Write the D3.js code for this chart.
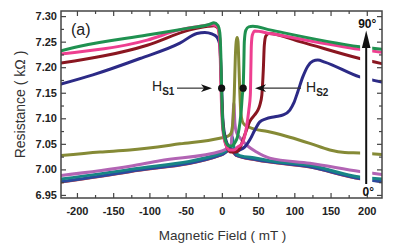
<!DOCTYPE html>
<html>
<head>
<meta charset="utf-8">
<script src="https://cdn.jsdelivr.net/npm/d3@7"></script>
<style>
  body { margin: 0; background: #fff; }
  text { font-family: "Liberation Sans", Arial, sans-serif; }
</style>
</head>
<body>
<div id="chart"></div>
<script>
// tick values
var xTicks = [-200, -150, -100, -50, 0, 50, 100, 150, 200];
var xMinor = [-175, -125, -75, -25, 25, 75, 125, 175];
var yTicks = [6.95, 7.00, 7.05, 7.10, 7.15, 7.20, 7.25, 7.30];
var yMinor = [6.975, 7.025, 7.075, 7.125, 7.175, 7.225, 7.275];

// curves: [field (mT), resistance (kOhm)]
var green = [[-222,7.232],[-196,7.241],[-103,7.263],[-44,7.277],[-16.6,7.284],[-11,7.287],[-5.5,7.282],
  [-2.8,7.267],[-1.4,7.224],[0,7.136],[2,7.077],[5.5,7.054],[9.7,7.046],[13.8,7.046],[17.9,7.052],
  [22,7.066],[24.8,7.090],[26.9,7.118],[28.3,7.146],[29.4,7.159],[30.3,7.205],[31,7.250],[33,7.272],
  [37,7.279],[42.8,7.280],[66.2,7.273],[190.3,7.240],[220.7,7.235]];
var pink = [[-222,7.226],[-103,7.253],[-58,7.273],[-30,7.280],[-13.8,7.283],[-6.9,7.280],[-3.4,7.263],
  [-2.1,7.214],[-0.7,7.136],[1.4,7.077],[5.5,7.048],[11,7.038],[16.6,7.038],[22,7.044],[27.6,7.050],
  [31,7.062],[33.8,7.081],[37.2,7.116],[39.3,7.146],[40,7.195],[40.7,7.243],[42.1,7.263],[45.5,7.271],
  [66.2,7.266],[190.3,7.235],[220.7,7.229]];
var darkRed = [[-222,7.208],[-103,7.243],[-44,7.273],[-19.3,7.280],[-11,7.281],[-5.5,7.277],[-2.8,7.253],
  [-0.7,7.155],[2,7.077],[6.9,7.044],[12.4,7.034],[19.3,7.034],[24.8,7.042],[31.7,7.068],[38.6,7.094],
  [45.5,7.107],[49.7,7.116],[52.4,7.126],[55.2,7.146],[57.2,7.195],[58.6,7.243],[60.7,7.261],
  [64.8,7.266],[107.6,7.250],[190.3,7.217],[220.7,7.207]];
var navy = [[-222,7.167],[-178,7.185],[-113,7.217],[-58,7.247],[-34.5,7.266],[-23.4,7.268],[-13.8,7.265],
  [-6.9,7.259],[-2.8,7.243],[-0.7,7.175],[1.4,7.097],[5.5,7.058],[11,7.042],[17.9,7.034],[24.8,7.038],
  [31.7,7.044],[38.6,7.058],[45.5,7.077],[52.4,7.093],[60.7,7.099],[73.1,7.103],[85.5,7.107],
  [93.8,7.116],[99.3,7.130],[104.8,7.152],[111.7,7.181],[118.6,7.202],[125.5,7.212],[132.4,7.214],
  [142,7.210],[190.3,7.181],[220.7,7.171]];
var olive = [[-222,7.027],[-168,7.034],[-127,7.038],[-58,7.050],[-2.8,7.061],[8.3,7.065],[12.4,7.070],
  [15,7.090],[17.2,7.150],[18.6,7.220],[19.8,7.250],[21.1,7.258],[22.3,7.250],[23.6,7.200],
  [24.8,7.150],[26.2,7.110],[28.3,7.094],[31,7.088],[38.6,7.082],[63.4,7.074],[93.8,7.063],
  [121.4,7.051],[149,7.038],[169.7,7.033],[190.3,7.032],[220.7,7.029]];
var magenta = [[-222,6.988],[-127,7.006],[-85.5,7.017],[0,7.036],[8.3,7.042],[12.4,7.046],[15,7.090],
  [16.6,7.130],[18,7.090],[20,7.073],[24.8,7.062],[34,7.048],[47.9,7.034],[66.2,7.022],[121.4,7.012],
  [190.3,6.996],[220.7,6.990]];
var teal = [[-222,6.981],[-127,7.000],[0,7.032],[8.3,7.039],[12.4,7.044],[14.5,7.064],[16.6,7.044],
  [19.3,7.032],[24.8,7.027],[47.9,7.022],[66.2,7.017],[121.4,7.008],[190.3,6.985],[220.7,6.981]];
var blue = [[-222,6.976],[-127,6.996],[0,7.029],[9.7,7.038],[13.8,7.040],[19.3,7.028],[47.9,7.019],
  [121.4,7.005],[190.3,6.982],[220.7,6.976]];
var red = [[-222,6.974],[-127,6.994],[0,7.027],[11,7.036],[19.3,7.026],[47.9,7.017],[121.4,7.003],
  [190.3,6.980],[220.7,6.975]];

var series = [
  {pts: red, color: "#e33b2e", w: 1.5},
  {pts: blue, color: "#2b4a9e", w: 3},
  {pts: teal, color: "#188585", w: 3},
  {pts: magenta, color: "#b264b4", w: 3},
  {pts: olive, color: "#858a36", w: 3},
  {pts: navy, color: "#2c2a86", w: 3},
  {pts: darkRed, color: "#8a1620", w: 3},
  {pts: pink, color: "#ee3f90", w: 3},
  {pts: green, color: "#1f9150", w: 3}
];

var margin = {top: 11, right: 34, bottom: 52, left: 61},
    width = 416 - margin.left - margin.right,
    height = 250 - margin.top - margin.bottom;

var svg = d3.select("#chart")
  .append("svg")
    .attr("width", 416)
    .attr("height", 250)
  .append("g")
    .attr("transform", "translate(" + margin.left + "," + margin.top + ")");

var x = d3.scaleLinear().domain([-222, 221]).range([0, width]);
var y = d3.scaleLinear().domain([6.944, 7.31]).range([height, 0]);

svg.append("defs").append("clipPath").attr("id", "clip")
  .append("rect").attr("width", width).attr("height", height);

var line = d3.line()
  .x(function(d) { return x(d[0]); })
  .y(function(d) { return y(d[1]); })
  .curve(d3.curveMonotoneX);

var curves = svg.append("g").attr("clip-path", "url(#clip)");
series.forEach(function(s) {
  curves.append("path")
    .attr("d", line(s.pts))
    .attr("fill", "none")
    .attr("stroke", s.color)
    .attr("stroke-width", s.w)
    .attr("stroke-linejoin", "round")
    .attr("stroke-linecap", "round");
});

// white band behind the angle arrow
svg.append("rect")
  .attr("x", x(190.8)).attr("y", 1)
  .attr("width", x(207.5) - x(190.8)).attr("height", height - 2)
  .attr("fill", "#fff");

// axes
var axisColor = "#444";
function styleAxis(g) {
  g.select(".domain").remove();
  g.selectAll("line").attr("stroke", axisColor).attr("stroke-width", 1.2);
  g.selectAll("text")
    .attr("fill", "#222")
    .style("font-size", "11px")
    .style("font-weight", "bold");
}

svg.append("g")
  .attr("transform", "translate(0," + height + ")")
  .call(d3.axisBottom(x).tickValues(xTicks).tickSize(-5).tickPadding(9).tickFormat(function(d) { return String(d); }))
  .call(styleAxis);
svg.append("g")
  .attr("transform", "translate(0," + height + ")")
  .call(d3.axisBottom(x).tickValues(xMinor).tickSize(-3).tickFormat(""))
  .call(styleAxis);
svg.append("g")
  .call(d3.axisTop(x).tickValues(xTicks).tickSize(-5).tickFormat(""))
  .call(styleAxis);
svg.append("g")
  .call(d3.axisTop(x).tickValues(xMinor).tickSize(-3).tickFormat(""))
  .call(styleAxis);
svg.append("g")
  .call(d3.axisLeft(y).tickValues(yTicks).tickSize(-5).tickPadding(4).tickFormat(d3.format(".2f")))
  .call(styleAxis);
svg.append("g")
  .call(d3.axisLeft(y).tickValues(yMinor).tickSize(-3).tickFormat(""))
  .call(styleAxis);
svg.append("g")
  .attr("transform", "translate(" + width + ",0)")
  .call(d3.axisRight(y).tickValues(yTicks).tickSize(-5).tickFormat(""))
  .call(styleAxis);
svg.append("g")
  .attr("transform", "translate(" + width + ",0)")
  .call(d3.axisRight(y).tickValues(yMinor).tickSize(-3).tickFormat(""))
  .call(styleAxis);

// frame
svg.append("rect")
  .attr("width", width).attr("height", height)
  .attr("fill", "none").attr("stroke", axisColor).attr("stroke-width", 1.5);

// axis titles
svg.append("text")
  .attr("x", width / 2 + 1).attr("y", height + 42)
  .attr("text-anchor", "middle")
  .style("font-size", "13.5px").attr("fill", "#333")
  .text("Magnetic Field ( mT )");
svg.append("text")
  .attr("transform", "rotate(-90)")
  .attr("x", -height / 2).attr("y", -36)
  .attr("text-anchor", "middle")
  .style("font-size", "14px").attr("fill", "#333")
  .text("Resistance ( kΩ )");

svg.append("text")
  .attr("x", 10).attr("y", 24)
  .style("font-size", "16px").attr("fill", "#222")
  .text("(a)");

// switching field markers
var yMark = y(7.159);
svg.selectAll(".dot")
  .data([-0.3, 29.4])
  .enter().append("circle")
    .attr("cx", function(d) { return x(d); })
    .attr("cy", yMark)
    .attr("r", 3.6)
    .attr("fill", "#111");

function arrowHead(tipX, tipY, dir) {
  // dir: 1 points right, -1 points left
  var L = 11, W = 3.8, n = 3;
  return "M" + tipX + "," + tipY +
    "L" + (tipX - dir * L) + "," + (tipY - W) +
    "L" + (tipX - dir * (L - n)) + "," + tipY +
    "L" + (tipX - dir * L) + "," + (tipY + W) + "Z";
}

var hs1 = svg.append("text").attr("x", 91).attr("y", yMark + 3).attr("fill", "#222").style("font-size", "14px");
hs1.append("tspan").text("H");
hs1.append("tspan").attr("dy", 4).style("font-size", "10px").style("font-weight", "bold").text("S1");
svg.append("line")
  .attr("x1", 116).attr("x2", 146).attr("y1", yMark).attr("y2", yMark)
  .attr("stroke", "#333").attr("stroke-width", 1.2);
svg.append("path").attr("d", arrowHead(151, yMark, 1)).attr("fill", "#111");

var hs2 = svg.append("text").attr("x", 245).attr("y", yMark + 4).attr("fill", "#222").style("font-size", "14px");
hs2.append("tspan").text("H");
hs2.append("tspan").attr("dy", 4).style("font-size", "10px").style("font-weight", "bold").text("S2");
svg.append("line")
  .attr("x1", 199).attr("x2", 240).attr("y1", yMark).attr("y2", yMark)
  .attr("stroke", "#333").attr("stroke-width", 1.2);
svg.append("path").attr("d", arrowHead(194, yMark, -1)).attr("fill", "#111");

// angle arrow
var ax = x(199.2);
svg.append("line")
  .attr("x1", ax).attr("x2", ax).attr("y1", 34).attr("y2", 173)
  .attr("stroke", "#111").attr("stroke-width", 2);
svg.append("path")
  .attr("d", "M" + ax + ",19.5L" + (ax - 4.3) + ",37L" + (ax + 4.3) + ",37Z")
  .attr("fill", "#111");
svg.append("text")
  .attr("x", ax + 1).attr("y", 16.5)
  .attr("text-anchor", "middle")
  .style("font-size", "12px").style("font-weight", "bold").attr("fill", "#111")
  .text("90°");
svg.append("text")
  .attr("x", ax + 2).attr("y", 185)
  .attr("text-anchor", "middle")
  .style("font-size", "12px").style("font-weight", "bold").attr("fill", "#111")
  .text("0°");
</script>
</body>
</html>
